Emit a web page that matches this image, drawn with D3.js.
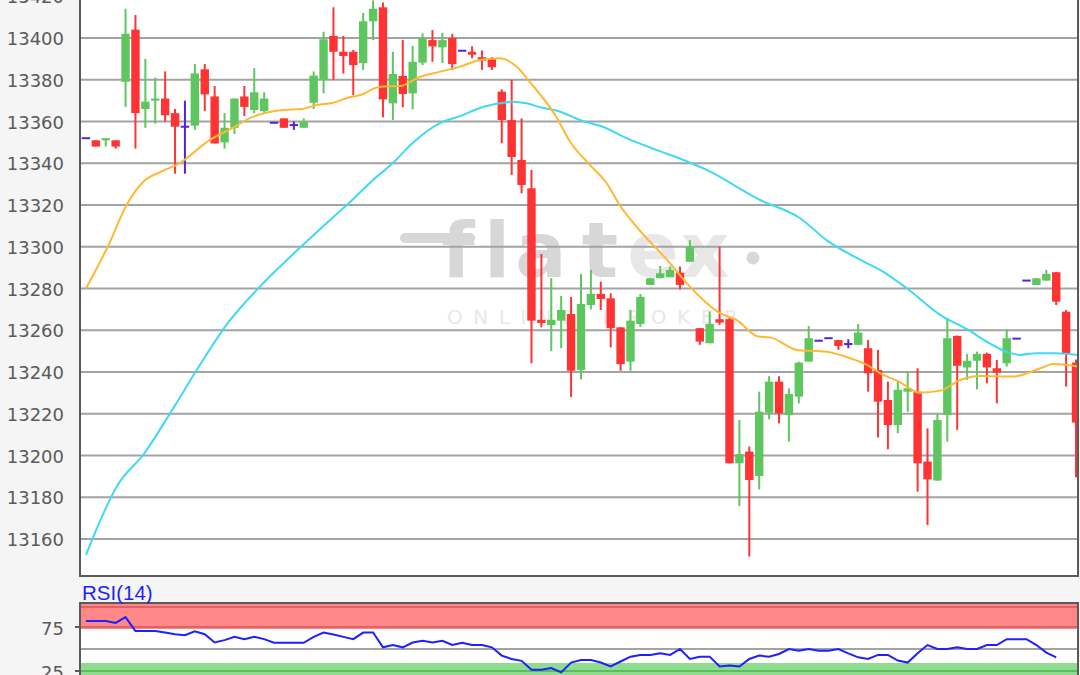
<!DOCTYPE html>
<html><head><meta charset="utf-8">
<script src="https://cdn.jsdelivr.net/npm/d3@7/dist/d3.min.js"></script>
<style>html,body{margin:0;padding:0;background:#f5f5f5;}svg{display:block;}</style>
</head><body>
<svg id="c" width="1080" height="675"></svg>
<script>
// ---- data ----
const opens  = [13352,13351,13351,13351,13379,13404,13366,13370,13371,13364,13357.5,13358,13385,13372,13350,13357,13372,13365.5,13365,13359.4,13361.5,13358.3,13357,13369,13380,13401,13393.4,13393.4,13388,13408,13414.7,13368.7,13381.8,13373.5,13388.2,13399,13395.5,13400,13393.9,13393.4,13390.8,13389.8,13374.3,13360.7,13341.6,13328,13265,13262.5,13264.6,13267.8,13241,13272.1,13277.4,13275.3,13261.4,13245,13263,13281.7,13285,13285.4,13287.6,13292.8,13261,13253.8,13265.3,13265.3,13196.3,13201.9,13190.2,13220.5,13235.4,13219.4,13228.2,13245,13255,13256.2,13255.3,13253.4,13253,13251.4,13241,13226.6,13214.6,13230.6,13230.6,13197.1,13188,13219.4,13257.3,13242.2,13245.4,13248.7,13241.8,13244.2,13256,13283.8,13281.7,13283.8,13287.8,13268.9,13244.5];
const highs  = [13352,13351,13352,13351,13414,13411,13390,13381,13384,13366,13370,13387.5,13387.5,13377,13364,13371,13377,13385.5,13374,13359.4,13361.5,13360,13361.5,13384,13403,13414.7,13401,13394.3,13412,13418,13417,13393.4,13399,13396.2,13402.2,13403.8,13402.5,13402,13393.9,13396,13394,13390.8,13375.4,13380,13361.5,13336.8,13296.5,13285,13276.4,13276,13287,13289,13283.3,13277.7,13261.5,13269.7,13277.4,13285,13290.8,13290.5,13290.5,13303.2,13261,13269,13300,13266,13217,13204.3,13230.6,13238,13238,13232.2,13245,13262,13255,13256.2,13255.3,13255.7,13263,13255.3,13250.6,13235.4,13236,13240.2,13241.8,13213,13220.2,13265.7,13257.5,13248.7,13249.8,13249.3,13245.8,13260.5,13256,13283.8,13285,13288.9,13288,13269.7,13246];
const lows   = [13352,13348,13348,13347,13367,13347,13357,13359,13360,13335,13335,13356,13365,13349.5,13347,13354,13362.6,13364,13364,13359.4,13357,13356,13357,13366,13373.5,13380,13383,13372.7,13384.7,13399,13362,13360.7,13366.8,13365.8,13387,13388.6,13388,13384.7,13393.9,13390.3,13384.7,13384.7,13349.6,13334.4,13325.6,13244.2,13261.4,13250,13251.4,13228,13236.5,13270,13269.7,13251.8,13240.6,13240.6,13261.7,13281.7,13284.9,13285.4,13279.6,13292.8,13253,13253.8,13262.6,13196.3,13175.8,13151.6,13183.8,13217.4,13215.4,13206.7,13225,13245,13255,13256.2,13250.6,13251.4,13253,13230.6,13208.7,13203,13210.7,13221,13182.7,13166.7,13188,13206.7,13212.3,13236.2,13231.7,13234.6,13225,13242.6,13256,13283.8,13281.7,13283.8,13272.1,13233,13189.6];
const closes = [13352,13348,13352,13348,13402,13364,13369.5,13371,13363,13357.5,13357.5,13383,13373,13349.5,13357,13371,13367,13374,13371,13359.4,13357,13358.3,13360,13382,13399.4,13393.4,13391.4,13387,13408,13414,13370.6,13382.8,13373.2,13388.6,13399.9,13396,13399,13387.5,13393.9,13392,13389.1,13386,13360.7,13343,13329.6,13264.6,13263.5,13265,13269.7,13240.6,13272.6,13277.4,13275,13261,13243.8,13264.6,13276,13284.9,13287.3,13288.9,13281.7,13300,13254.6,13263,13263.7,13196.3,13200.7,13188.3,13221,13235.4,13220.2,13229.5,13244.5,13256.2,13255,13256.2,13252.5,13253.4,13258.9,13239.4,13225.8,13214.6,13231.5,13232.2,13196.3,13188.6,13217,13256.2,13243,13245.4,13248.7,13242.2,13239.7,13256.2,13256,13283.8,13284.9,13287,13273.7,13249,13215.8];

// moving averages: [candle index, value]
const maOrange = [[0,13280],[2.2,13300],[4.2,13320.8],[5.9,13331.6],[7.6,13336],[9.3,13339.6],[12.5,13351.1],[14.8,13356.9],[16.6,13361.7],[19.9,13365.5],[21.8,13366],[23.3,13367.9],[24.9,13368.9],[26.7,13371.7],[27.7,13372.7],[29.7,13376.7],[31.7,13377],[33.7,13381.3],[35.8,13383.9],[37.8,13386.3],[39.8,13389.5],[41.8,13390.3],[43.5,13386.3],[44.8,13379.1],[47.5,13362.3],[48.9,13350.3],[50.9,13339.2],[52.6,13330.4],[53.9,13320],[55.9,13308],[58.7,13293.7],[60.7,13282.5],[62,13276.1],[64,13268.3],[65.7,13265],[67.9,13257],[69.1,13256.6],[71.8,13250.6],[74.8,13249.7],[77.2,13246.6],[78.9,13243.4],[80.2,13239.5],[82.2,13235.2],[84.2,13230.1],[86.3,13231.1],[88.3,13236.2],[90.3,13238.1],[93.6,13237.8],[96.4,13241.8],[97.7,13243.8],[99.1,13243.4],[100.2,13242.6]];
const maCyan = [[0,13152.4],[3.2,13185.9],[5.9,13201.1],[8.6,13221],[11.3,13241.8],[14.3,13263.3],[17.4,13280.1],[21.6,13299.5],[24.1,13310.4],[27,13322.9],[29,13332],[31,13340.1],[33,13349.7],[35.8,13359.3],[37.8,13362.6],[39.8,13366.5],[41.8,13368.7],[43.1,13369.5],[44.5,13368.7],[45.9,13366.8],[47.9,13364.7],[49.9,13360.7],[52.2,13357.5],[54.6,13352],[57.6,13346.4],[59.9,13342.4],[62.7,13336.8],[68.1,13322.4],[72.1,13313.8],[74.8,13303.2],[78.9,13292.1],[80.2,13288.9],[82.9,13280.1],[86.3,13267.3],[89,13260.5],[91,13254.5],[93,13249.7],[94.3,13248.2],[96,13249],[98,13249],[100.2,13248.2]];

const rsi = [81.7,81.7,81.7,79.6,86.3,70.5,70.5,70.5,68.7,66.8,65.7,70.2,66.8,57.4,60.1,63.8,61.2,63.8,61.2,57.1,57.1,57.1,57.1,63.8,68.7,66.4,63.8,61.2,68.7,68.7,51.9,54.5,51.9,57.4,59.3,57.4,59.3,54.5,57.1,54.5,54.5,51.9,42.5,38.7,36.5,26.4,26.4,28.3,23.4,34.6,37.6,37.6,34.6,30.1,35.8,41.3,43.3,43.3,45.1,43.3,50,38.7,41.3,41.3,30.1,31.2,30.1,38.7,42.5,41.3,44.3,50,48.1,50,48.1,48.1,50,45.1,40.5,38.7,43.3,43.3,36.9,34.6,45.1,54.5,50,50,51.9,50,50,54.5,54.5,61.2,61.2,61.2,54.5,45.9,40.5];

const priceTicks = [13160,13180,13200,13220,13240,13260,13280,13300,13320,13340,13360,13380,13400,13420];
const rsiTicks = [75,25];
const rsiTitle = "RSI(14)";

// ---- layout ----
const L = 80, R = 1078, mainTop = 0, mainBottom = 576, rsiTop = 603, rsiBottom = 675;
const svg = d3.select("#c");
const n = closes.length;
const x = d3.scaleLinear().domain([-0.6, 100.2]).range([L, R]);
const y = d3.scaleLinear().domain([13142.3, 13418.2]).range([mainBottom, mainTop]);
const yr = d3.scaleLinear().domain([50, 75]).range([649, 627]);

svg.append("rect").attr("width",1080).attr("height",675).attr("fill","#f5f5f5");
svg.append("rect").attr("x",L).attr("y",mainTop).attr("width",R-L).attr("height",mainBottom-mainTop).attr("fill","#fff");
svg.append("rect").attr("x",L).attr("y",rsiTop).attr("width",R-L).attr("height",rsiBottom-rsiTop).attr("fill","#fff");

const defs = svg.append("defs");
defs.append("clipPath").attr("id","clipMain").append("rect").attr("x",L).attr("y",mainTop).attr("width",R-L).attr("height",mainBottom-mainTop);
defs.append("clipPath").attr("id","clipRsi").append("rect").attr("x",L).attr("y",rsiTop).attr("width",R-L).attr("height",rsiBottom-rsiTop);

// watermark
const wm = svg.append("g").attr("font-family","DejaVu Sans").attr("font-weight","bold").attr("text-anchor","middle");
wm.append("line").attr("x1",405).attr("x2",470).attr("y1",238).attr("y2",238).attr("stroke","#d7d7d7").attr("stroke-width",10).attr("stroke-linecap","round");
[["f",458,"#d7d7d7"],["l",497,"#d7d7d7"],["a",541,"#d7d7d7"],["t",600,"#d7d7d7"],["e",653,"#e7e7e7"],["x",705,"#e7e7e7"]].forEach(d=>{
  wm.append("text").attr("x",d[1]).attr("y",277).attr("font-size",76).attr("fill",d[2]).text(d[0]);
});
wm.append("circle").attr("cx",753).attr("cy",258).attr("r",6.5).attr("fill","#d8d8d8");
svg.append("text").attr("x",447).attr("y",324).attr("font-family","DejaVu Sans").attr("font-size",20)
  .attr("letter-spacing","10.5px").attr("fill","#e8e8e8").text("ONLINE BROKER");

// grid
svg.append("g").selectAll("line").data(priceTicks).join("line")
  .attr("x1",L).attr("x2",R).attr("y1",d=>y(d)).attr("y2",d=>y(d))
  .attr("stroke","#a3a3a3").attr("stroke-width",2);

// price labels
svg.append("g").selectAll("text").data(priceTicks).join("text")
  .attr("x",64).attr("y",d=>y(d)+7).attr("text-anchor","end")
  .attr("font-family","DejaVu Sans").attr("font-size",18).attr("fill","#5a5a5a").text(d=>d);

// candles
const up = "#5ec65e", down = "#ff3333", doji = "#5522dd";
const cg = svg.append("g").attr("clip-path","url(#clipMain)");
const idx = d3.range(n);
const colorOf = i => closes[i] > opens[i] ? up : (closes[i] < opens[i] ? down : doji);
cg.selectAll("line.wick").data(idx).join("line").attr("class","wick")
  .attr("x1",i=>x(i)).attr("x2",i=>x(i)).attr("y1",i=>y(highs[i])).attr("y2",i=>y(lows[i]))
  .attr("stroke",colorOf).attr("stroke-width",2);
cg.selectAll("rect.body").data(idx).join("rect").attr("class","body")
  .attr("x",i=>x(i)-4.2).attr("width",8.4)
  .attr("y",i=>{const t=y(Math.max(opens[i],closes[i])), b=y(Math.min(opens[i],closes[i])); return b-t<2 ? (t+b)/2-1 : t;})
  .attr("height",i=>Math.max(2, y(Math.min(opens[i],closes[i]))-y(Math.max(opens[i],closes[i]))))
  .attr("fill",colorOf);

// moving averages
const ln = d3.line().x(d=>x(d[0])).y(d=>y(d[1])).curve(d3.curveMonotoneX);
cg.append("path").attr("d",ln(maCyan)).attr("fill","none").attr("stroke","#3fd8f6").attr("stroke-width",2);
cg.append("path").attr("d",ln(maOrange)).attr("fill","none").attr("stroke","#ffb833").attr("stroke-width",2);

// main frame
svg.append("line").attr("x1",L).attr("x2",L).attr("y1",0).attr("y2",mainBottom).attr("stroke","#5a5a5a").attr("stroke-width",2);
svg.append("line").attr("x1",R).attr("x2",R).attr("y1",0).attr("y2",mainBottom).attr("stroke","#5a5a5a").attr("stroke-width",2);
svg.append("line").attr("x1",L-1).attr("x2",R+1).attr("y1",mainBottom).attr("y2",mainBottom).attr("stroke","#5a5a5a").attr("stroke-width",2);

// RSI panel
const rg = svg.append("g").attr("clip-path","url(#clipRsi)");
rg.append("rect").attr("x",L).attr("width",R-L).attr("y",rsiTop).attr("height",yr(75)+2-rsiTop).attr("fill","#ff8787");
rg.append("line").attr("x1",L).attr("x2",R).attr("y1",yr(100)+2).attr("y2",yr(100)+2).attr("stroke","#e26262").attr("stroke-width",2);
rg.append("line").attr("x1",L).attr("x2",R).attr("y1",yr(75)).attr("y2",yr(75)).attr("stroke","#e26262").attr("stroke-width",2);
rg.append("line").attr("x1",L).attr("x2",R).attr("y1",yr(50)).attr("y2",yr(50)).attr("stroke","#a3a3a3").attr("stroke-width",2);
rg.append("rect").attr("x",L).attr("width",R-L).attr("y",yr(25)-8).attr("height",rsiBottom-yr(25)+8).attr("fill","#8fdc8f");
rg.append("line").attr("x1",L).attr("x2",R).attr("y1",yr(25)).attr("y2",yr(25)).attr("stroke","#5cbf5c").attr("stroke-width",2);
const rl = d3.line().x((d,i)=>x(i)).y(d=>yr(d));
rg.append("path").attr("d",rl(rsi)).attr("fill","none").attr("stroke","#1f1fff").attr("stroke-width",2);

svg.append("line").attr("x1",L).attr("x2",L).attr("y1",rsiTop).attr("y2",rsiBottom).attr("stroke","#5a5a5a").attr("stroke-width",2);
svg.append("line").attr("x1",R).attr("x2",R).attr("y1",rsiTop).attr("y2",rsiBottom).attr("stroke","#5a5a5a").attr("stroke-width",2);
svg.append("line").attr("x1",L-1).attr("x2",R+1).attr("y1",rsiTop).attr("y2",rsiTop).attr("stroke","#5a5a5a").attr("stroke-width",2);
svg.append("g").selectAll("line").data(rsiTicks).join("line")
  .attr("x1",75).attr("x2",L).attr("y1",d=>yr(d)).attr("y2",d=>yr(d)).attr("stroke","#5a5a5a").attr("stroke-width",2);
svg.append("g").selectAll("text").data(rsiTicks).join("text")
  .attr("x",64).attr("y",d=>yr(d)+8).attr("text-anchor","end")
  .attr("font-family","DejaVu Sans").attr("font-size",18).attr("fill","#5a5a5a").text(d=>d);
svg.append("text").attr("x",82).attr("y",600).attr("font-family","Liberation Sans, Arial, sans-serif").attr("font-size",20.5)
  .attr("fill","#1f1fff").text(rsiTitle);
</script>
</body></html>
